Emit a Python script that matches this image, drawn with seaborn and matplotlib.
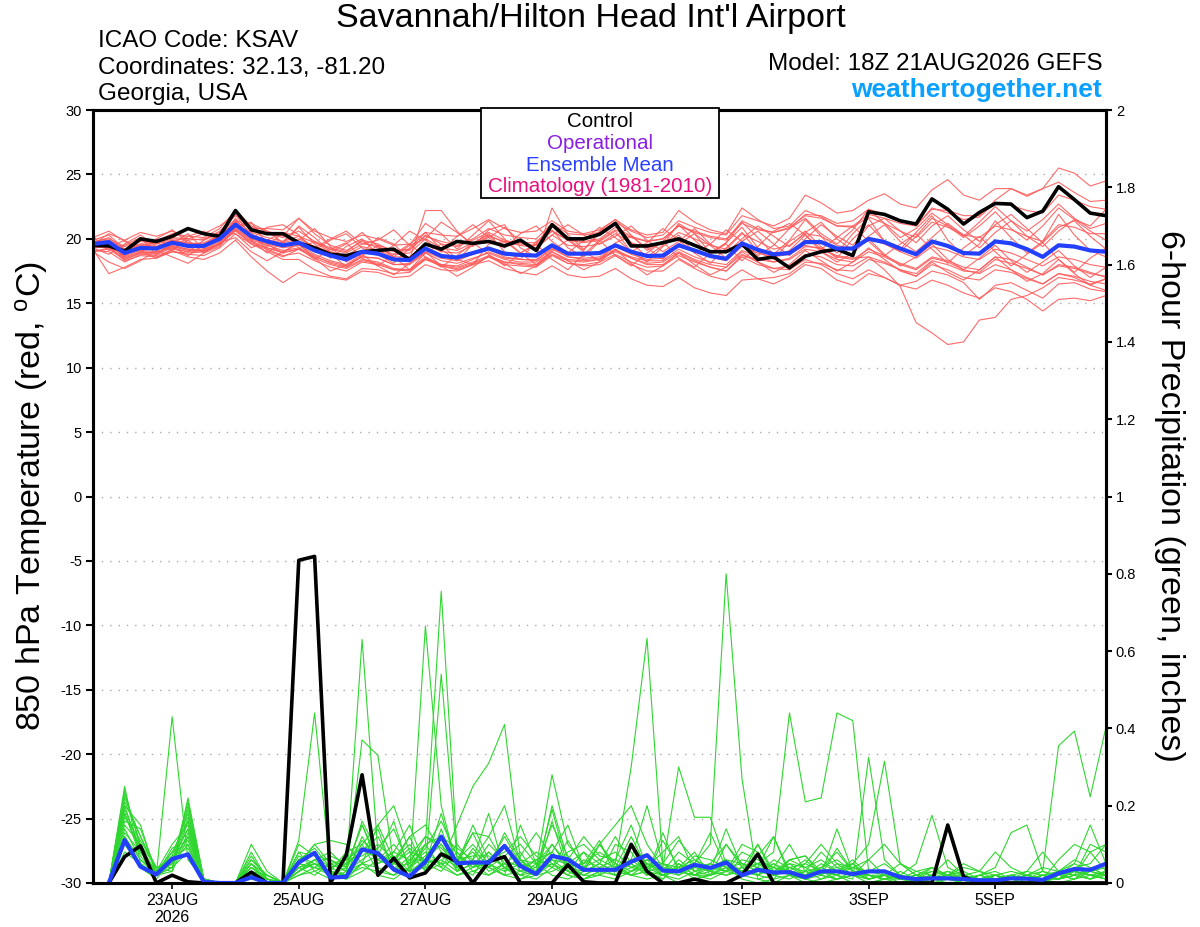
"""
GEFS meteogram: 850 hPa temperature spaghetti + 6-hour precipitation, KSAV.
"""
import matplotlib
matplotlib.use("Agg")
import matplotlib.pyplot as plt
from matplotlib.patches import Rectangle
import pandas as pd
import seaborn as sns

# ── data ──────────────────────────────────────────────────────────────────
RUN_START = "2026-08-21 18:00"
N_STEPS = 65                      # 6-hourly, 18Z 21AUG .. 18Z 6SEP

tick_dates = ["2026-08-23", "2026-08-25", "2026-08-27", "2026-08-29",
              "2026-09-01", "2026-09-03", "2026-09-05"]
tick_labels = ["23AUG\n2026", "25AUG", "27AUG", "29AUG", "1SEP", "3SEP", "5SEP"]

temp_ticks = [-30, -25, -20, -15, -10, -5, 0, 5, 10, 15, 20, 25, 30]
precip_ticks = [0, 0.2, 0.4, 0.6, 0.8, 1, 1.2, 1.4, 1.6, 1.8, 2]

temp_control = [
    19.5, 19.45, 19.05, 20.0, 19.8, 20.2, 20.8, 20.4, 20.2, 22.2, 20.7, 20.4, 20.4,
    19.7, 19.3, 18.8, 18.7, 19.0, 19.1, 19.2, 18.4, 19.6, 19.2, 19.8, 19.65, 19.8,
    19.45, 19.9, 19.1, 21.1, 20.0, 20.0, 20.35, 21.2, 19.45, 19.45, 19.7, 20.0, 19.5,
    19.0, 19.0, 19.6, 18.4, 18.6, 17.75, 18.65, 19.0, 19.2, 18.7, 22.1, 21.9, 21.4,
    21.15, 23.1, 22.3, 21.15, 22.05, 22.75, 22.7, 21.65, 22.15, 24.05, 23.05, 22.0, 21.8,
]
temp_mean = [
    19.6, 19.75, 18.9, 19.3, 19.25, 19.7, 19.45, 19.45, 20.0, 21.1, 20.2, 19.8, 19.5,
    19.7, 19.1, 18.7, 18.4, 19.0, 18.85, 18.4, 18.35, 19.25, 18.67, 18.55, 18.9, 19.25,
    18.85, 18.75, 18.7, 19.5, 18.85, 18.85, 18.9, 19.5, 19.0, 18.67, 18.7, 19.5, 19.1,
    18.67, 18.45, 19.65, 19.15, 18.8, 18.9, 19.75, 19.75, 19.25, 19.25, 20.0, 19.75, 19.25,
    18.8, 19.8, 19.45, 18.9, 18.85, 19.8, 19.65, 19.2, 18.6, 19.5, 19.4, 19.1, 19.0,
]

t_m01 = [19.9, 20.3, 19.2, 19.8, 19.6, 20.1, 20.0, 19.9, 20.6, 21.8, 20.9, 20.4, 20.1,
         20.6, 19.8, 19.3, 19.0, 19.9, 19.6, 19.0, 19.1, 20.3, 19.6, 19.4, 19.9, 20.5,
         19.9, 19.6, 19.5, 20.6, 19.9, 19.8, 20.0, 20.9, 20.2, 19.8, 20.0, 21.0, 20.5,
         20.1, 19.9, 21.4, 20.8, 20.5, 20.8, 21.9, 21.8, 21.2, 21.4, 22.3, 21.9, 21.4,
         21.0, 22.4, 22.0, 21.5, 21.7, 22.8, 22.6, 22.2, 22.0, 23.4, 23.0, 22.5, 22.3]
t_m02 = [19.3, 19.4, 18.3, 18.7, 18.6, 19.0, 18.8, 18.7, 19.3, 20.4, 19.6, 19.2, 18.7,
         18.9, 18.3, 17.8, 17.5, 18.2, 18.0, 17.6, 17.5, 18.5, 17.9, 17.7, 18.1, 18.6,
         18.0, 17.9, 17.8, 18.7, 18.1, 18.0, 18.2, 18.8, 18.2, 17.8, 17.9, 18.7, 18.2,
         17.8, 17.5, 18.6, 18.0, 17.7, 17.9, 18.8, 18.6, 18.0, 17.9, 18.6, 18.2, 17.6,
         17.1, 18.0, 17.6, 17.0, 16.8, 17.6, 17.4, 16.9, 16.5, 17.3, 17.1, 16.7, 16.5]
t_m03 = [19.8, 20.0, 19.4, 19.9, 19.8, 20.4, 20.2, 20.1, 20.8, 22.2, 21.0, 20.6, 20.2,
         21.6, 20.4, 19.5, 19.1, 19.8, 19.3, 18.8, 18.9, 20.0, 19.3, 19.1, 19.7, 20.3,
         19.7, 19.5, 19.3, 20.3, 19.5, 19.4, 19.6, 20.4, 19.7, 19.3, 19.6, 20.5, 20.0,
         19.5, 19.2, 20.4, 19.8, 19.2, 19.5, 20.4, 20.2, 19.5, 19.2, 20.0, 19.6, 19.0,
         18.5, 19.4, 19.1, 18.6, 18.4, 19.2, 18.9, 18.4, 17.9, 18.6, 18.4, 18.0, 17.8]
t_m04 = [19.2, 17.3, 17.8, 18.4, 18.5, 19.0, 18.9, 19.0, 19.5, 20.7, 19.8, 19.3, 18.9,
         19.2, 18.6, 18.2, 17.9, 18.6, 18.5, 18.0, 18.1, 19.0, 18.5, 18.3, 18.8, 19.2,
         18.6, 18.4, 18.3, 19.2, 18.6, 18.5, 18.6, 19.4, 18.8, 18.4, 18.5, 19.5, 19.0,
         18.6, 18.3, 19.4, 18.9, 18.6, 18.8, 19.5, 19.2, 18.7, 18.5, 18.6, 17.6, 16.3,
         13.5, 12.7, 11.8, 12.0, 13.7, 13.9, 15.3, 15.6, 16.2, 17.0, 16.8, 16.5, 16.9]
t_m05 = [19.7, 20.1, 19.1, 19.5, 19.4, 19.9, 19.6, 19.7, 20.3, 21.4, 20.5, 20.1, 19.8,
         20.2, 19.7, 19.2, 18.9, 19.6, 19.5, 19.1, 19.2, 20.2, 19.8, 19.5, 20.0, 20.8,
         20.3, 20.1, 20.0, 21.2, 20.4, 20.3, 20.5, 21.3, 20.6, 20.1, 20.3, 21.4, 20.9,
         20.5, 20.3, 21.8, 21.4, 21.0, 21.6, 23.4, 22.8, 22.0, 22.2, 23.0, 23.5, 22.7,
         22.4, 23.8, 24.6, 23.4, 23.0, 23.9, 23.9, 23.3, 23.9, 25.5, 25.1, 24.1, 24.5]
t_m06 = [19.3, 18.8, 19.6, 20.3, 19.4, 19.1, 20.2, 20.6, 19.8, 21.0, 21.3, 19.6, 18.9,
         19.9, 20.8, 19.4, 18.2, 18.9, 20.1, 19.6, 18.4, 22.2, 22.2, 20.6, 19.4, 20.7,
         21.1, 19.3, 18.6, 22.4, 20.3, 19.2, 20.4, 21.3, 19.7, 18.6, 19.5, 21.2, 20.4,
         18.9, 19.7, 21.3, 20.1, 18.8, 19.9, 21.5, 20.2, 18.9, 20.4, 21.6, 19.8, 19.2,
         20.5, 21.8, 19.9, 18.7, 19.6, 21.4, 20.1, 18.9, 19.8, 21.9, 20.3, 19.1, 18.6]
t_m07 = [19.4, 19.6, 18.6, 19.0, 18.9, 19.4, 19.2, 19.1, 19.7, 20.8, 19.9, 19.5, 19.1,
         19.3, 18.7, 18.1, 17.8, 18.4, 18.2, 17.7, 17.6, 18.4, 17.9, 17.6, 18.0, 18.3,
         17.7, 17.4, 17.2, 17.9, 17.2, 17.0, 17.1, 17.7, 16.9, 16.4, 16.3, 17.0, 16.2,
         15.8, 15.6, 16.8, 16.9, 17.0, 17.3, 18.2, 18.1, 17.6, 17.5, 18.4, 18.1, 17.6,
         17.3, 18.3, 18.0, 17.5, 17.4, 18.4, 18.1, 17.7, 17.2, 18.0, 17.8, 17.4, 17.0]
t_m08 = [20.1, 20.6, 19.8, 19.2, 20.0, 20.7, 19.7, 19.3, 20.0, 21.4, 20.0, 20.9, 21.1,
         20.3, 19.1, 19.9, 20.4, 19.3, 18.7, 19.5, 20.6, 19.9, 19.0, 20.2, 21.1, 20.1,
         19.3, 20.4, 21.0, 19.8, 18.9, 19.9, 20.9, 20.1, 19.0, 19.7, 20.8, 19.9, 18.9,
         19.6, 20.7, 19.8, 18.7, 19.5, 20.8, 21.6, 20.4, 19.6, 20.7, 22.3, 21.2, 20.1,
         20.8, 22.0, 21.1, 20.2, 21.3, 22.5, 21.4, 20.6, 21.5, 22.7, 21.6, 20.8, 21.2]
t_m09 = [19.1, 19.0, 18.2, 18.8, 18.7, 19.1, 18.6, 18.4, 18.9, 19.9, 18.6, 17.5, 16.6,
         17.4, 17.2, 17.0, 16.8, 17.5, 17.4, 17.0, 17.1, 18.0, 17.6, 17.5, 18.0, 18.6,
         18.2, 18.1, 18.0, 18.8, 18.3, 18.2, 18.4, 19.1, 18.6, 18.3, 18.3, 19.2, 18.6,
         18.2, 18.0, 19.1, 18.6, 18.2, 18.4, 19.2, 19.0, 18.4, 18.2, 19.0, 18.6, 18.0,
         17.6, 18.5, 18.2, 17.6, 17.3, 18.0, 17.6, 17.0, 16.5, 17.3, 17.0, 16.4, 16.0]
t_m10 = [19.6, 19.8, 19.0, 19.6, 19.6, 20.0, 19.9, 20.0, 20.5, 21.5, 20.8, 20.8, 20.7,
         21.6, 20.6, 20.1, 19.8, 20.3, 20.0, 19.5, 19.6, 20.5, 20.3, 20.2, 20.8, 21.5,
         20.8, 20.5, 20.6, 21.4, 20.6, 20.4, 20.7, 21.5, 20.7, 20.3, 20.5, 22.2, 21.3,
         20.7, 20.4, 22.4, 21.5, 20.8, 21.0, 22.2, 21.7, 21.0, 20.9, 21.7, 21.2, 20.6,
         20.1, 21.3, 20.9, 20.3, 20.1, 21.0, 20.7, 20.2, 19.8, 21.1, 20.9, 20.4, 20.4]
t_m11 = [19.3, 19.5, 18.7, 19.1, 19.0, 19.5, 19.2, 19.2, 19.8, 20.8, 20.0, 19.6, 19.3,
         19.5, 18.8, 18.3, 18.0, 18.6, 18.5, 18.0, 18.0, 18.9, 18.3, 18.1, 18.5, 18.9,
         18.4, 18.2, 18.2, 19.0, 18.4, 18.3, 18.4, 19.0, 18.5, 18.1, 18.2, 19.0, 18.4,
         18.0, 17.8, 18.8, 18.2, 17.7, 17.6, 18.4, 18.0, 17.3, 16.9, 17.6, 17.0, 16.4,
         16.1, 16.8, 16.4, 15.8, 15.4, 16.2, 15.9, 15.3, 14.4, 15.3, 15.4, 15.2, 15.6]
t_m12 = [19.4, 19.9, 18.4, 18.9, 20.0, 19.4, 18.7, 19.5, 20.3, 20.4, 19.3, 19.9, 20.5,
         19.3, 18.4, 19.2, 19.7, 18.5, 17.9, 18.8, 19.6, 18.6, 17.8, 18.7, 19.7, 18.8,
         17.9, 18.9, 19.6, 18.4, 17.6, 18.8, 19.9, 18.7, 17.9, 18.9, 19.8, 18.5, 17.8,
         18.9, 19.6, 18.3, 19.4, 20.6, 21.2, 20.3, 19.2, 20.1, 21.0, 19.8, 18.7, 19.6,
         20.4, 19.2, 18.1, 19.3, 20.2, 19.0, 17.9, 18.8, 19.7, 18.4, 17.4, 18.5, 19.3]
t_m13 = [20.2, 19.1, 19.5, 20.1, 18.8, 19.6, 20.4, 19.2, 19.6, 21.6, 19.9, 18.9, 19.8,
         20.9, 19.6, 18.5, 19.4, 20.0, 18.8, 18.1, 19.3, 20.5, 19.2, 18.3, 19.6, 20.4,
         19.0, 18.4, 19.8, 20.7, 19.3, 18.6, 19.8, 20.6, 19.0, 18.2, 19.4, 20.3, 18.9,
         18.1, 19.3, 20.5, 19.0, 18.4, 19.8, 20.6, 19.4, 18.5, 20.0, 21.1, 19.8, 19.0,
         20.2, 21.6, 21.0, 20.1, 21.0, 22.1, 20.8, 19.9, 21.0, 22.4, 21.5, 21.0, 22.3]
t_m14 = [19.0, 19.2, 18.4, 18.9, 18.8, 19.3, 19.0, 19.0, 19.6, 20.7, 19.6, 19.0, 18.4,
         18.4, 17.6, 17.1, 16.9, 17.7, 17.6, 17.3, 17.4, 18.4, 18.0, 17.9, 18.4, 19.0,
         18.5, 18.4, 18.4, 19.3, 18.6, 18.4, 18.5, 19.2, 18.5, 18.0, 18.0, 18.9, 18.3,
         17.8, 17.5, 18.7, 18.4, 18.2, 18.5, 19.4, 19.3, 18.6, 18.4, 19.2, 18.7, 18.1,
         17.7, 18.6, 18.3, 17.8, 17.6, 18.6, 18.4, 17.8, 17.2, 17.9, 17.7, 17.3, 17.1]
t_m15 = [19.0, 19.3, 19.9, 19.0, 18.5, 19.2, 19.9, 18.9, 19.4, 20.9, 21.2, 20.6, 19.7,
         21.0, 20.1, 19.0, 19.6, 20.5, 19.4, 18.6, 19.5, 21.2, 20.4, 19.2, 20.3, 21.4,
         20.0, 18.9, 19.6, 21.2, 20.0, 19.1, 20.6, 21.5, 20.3, 19.1, 19.8, 21.1, 19.9,
         18.8, 19.7, 20.9, 19.3, 18.6, 19.1, 20.3, 19.0, 18.2, 18.9, 20.0, 18.8, 17.9,
         18.6, 19.6, 18.4, 17.6, 18.5, 19.5, 18.3, 17.4, 18.2, 19.1, 17.9, 17.0, 17.8]
t_m16 = [19.7, 19.9, 19.2, 19.6, 19.4, 19.9, 19.7, 19.6, 20.2, 21.3, 20.3, 19.9, 19.7,
         20.0, 19.4, 19.0, 18.7, 19.4, 19.1, 18.6, 18.6, 19.6, 19.0, 18.9, 19.5, 20.2,
         19.8, 19.7, 19.7, 20.6, 19.9, 19.7, 19.9, 20.7, 20.1, 19.8, 20.0, 21.0, 20.6,
         20.2, 20.0, 21.2, 20.7, 20.5, 20.9, 21.8, 21.6, 21.0, 21.0, 21.9, 21.6, 21.2,
         21.0, 22.3, 22.2, 21.8, 21.8, 23.0, 23.9, 23.4, 23.9, 24.4, 23.6, 22.9, 23.0]
t_m17 = [19.4, 19.3, 18.5, 19.0, 18.9, 19.4, 19.1, 19.1, 19.6, 20.6, 19.7, 19.3, 19.0,
         19.2, 18.5, 18.0, 17.7, 18.3, 18.1, 17.6, 17.6, 18.6, 18.0, 17.8, 18.2, 18.7,
         18.2, 18.0, 17.9, 18.8, 18.1, 17.9, 18.0, 18.7, 18.0, 17.5, 17.5, 18.4, 17.7,
         17.1, 16.8, 17.6, 16.9, 16.5, 17.1, 18.0, 17.7, 16.8, 16.4, 17.3, 17.0, 16.4,
         16.7, 17.5, 17.2, 16.6, 15.3, 16.4, 16.6, 16.0, 15.4, 16.5, 16.6, 16.1, 15.9]
t_m18 = [19.6, 20.4, 19.9, 20.5, 20.2, 20.6, 20.0, 20.4, 21.0, 21.9, 20.2, 19.4, 20.5,
         20.2, 19.3, 20.0, 20.6, 19.6, 19.9, 20.7, 19.5, 20.0, 21.3, 20.5, 19.6, 20.1,
         20.9, 19.8, 19.3, 20.3, 21.1, 20.3, 19.6, 20.2, 21.0, 19.9, 19.0, 19.8, 20.8,
         19.6, 18.9, 20.0, 21.0, 20.2, 19.4, 20.5, 21.3, 20.0, 19.1, 20.2, 21.1, 19.8,
         19.0, 20.1, 21.2, 20.3, 19.3, 20.5, 21.4, 20.2, 19.4, 20.6, 21.5, 20.6, 19.9]
t_m19 = [19.0, 18.2, 17.7, 18.3, 19.1, 18.6, 18.1, 18.9, 19.7, 20.1, 19.0, 18.3, 19.0,
         19.6, 18.5, 17.5, 18.0, 18.8, 17.9, 17.2, 18.1, 19.0, 17.9, 17.1, 17.8, 18.7,
         18.1, 17.3, 17.9, 19.0, 18.3, 17.6, 18.2, 19.2, 18.1, 17.2, 17.9, 18.9, 18.0,
         17.2, 17.8, 19.0, 18.2, 17.4, 18.0, 19.1, 18.3, 17.5, 18.2, 19.3, 18.4, 17.5,
         17.1, 18.2, 17.4, 16.8, 17.6, 18.6, 17.6, 16.7, 17.3, 18.4, 17.3, 16.4, 16.9]
t_m20 = [19.8, 19.5, 18.6, 19.9, 19.7, 19.2, 19.0, 19.9, 20.4, 21.0, 20.5, 19.1, 18.6,
         19.2, 19.8, 18.9, 17.8, 18.7, 19.5, 18.6, 17.6, 18.9, 19.6, 18.4, 18.0, 19.6,
         19.8, 18.9, 18.0, 19.1, 19.9, 19.0, 18.3, 19.7, 20.2, 19.3, 18.4, 19.6, 20.4,
         19.5, 18.5, 19.8, 20.6, 19.6, 18.7, 20.0, 21.1, 20.2, 19.5, 21.0, 21.6, 20.6,
         19.7, 21.0, 21.8, 20.7, 19.8, 21.1, 21.9, 20.8, 19.7, 20.9, 21.4, 20.2, 19.2]

temp_members = [t_m01, t_m02, t_m03, t_m04, t_m05, t_m06, t_m07, t_m08, t_m09, t_m10,
                t_m11, t_m12, t_m13, t_m14, t_m15, t_m16, t_m17, t_m18, t_m19, t_m20]

# precipitation: 64 six-hour totals, 00Z 22AUG .. 18Z 6SEP
precip_control = [
    0, 0.068, 0.096, 0, 0.02, 0.003, 0, 0, 0, 0.028, 0, 0, 0.835, 0.845, 0, 0.072,
    0.28, 0.02, 0.064, 0.013, 0.026, 0.075, 0.055, 0, 0.055, 0.068, 0, 0, 0, 0.047, 0.003, 0,
    0, 0.1, 0.03, 0, 0, 0.01, 0, 0, 0.02, 0.075, 0, 0, 0, 0, 0, 0,
    0, 0, 0, 0, 0, 0.15, 0.016, 0, 0, 0, 0, 0, 0, 0, 0, 0,
]
precip_mean = [
    0, 0.111, 0.042, 0.022, 0.062, 0.074, 0.003, 0, 0, 0.015, 0, 0, 0.053, 0.078, 0.014, 0.016,
    0.087, 0.077, 0.035, 0.017, 0.055, 0.12, 0.051, 0.053, 0.053, 0.096, 0.044, 0.023, 0.07, 0.061, 0.034, 0.034,
    0.034, 0.055, 0.072, 0.032, 0.03, 0.047, 0.039, 0.053, 0.02, 0.034, 0.027, 0.028, 0.015, 0.03, 0.03, 0.023,
    0.03, 0.03, 0.015, 0.01, 0.012, 0.012, 0.01, 0.007, 0.007, 0.012, 0.011, 0.008, 0.025, 0.036, 0.034, 0.05,
]

p_m01 = [0, 0.25, 0.05, 0.02, 0.43, 0.06, 0.01, 0, 0, 0.02, 0, 0, 0.03, 0.06, 0.02, 0.01,
         0.05, 0.02, 0.01, 0.04, 0.1, 0.755, 0.08, 0.03, 0.05, 0.02, 0.01, 0.02, 0.06, 0.03, 0.01, 0.02,
         0.01, 0.03, 0.05, 0.02, 0, 0.01, 0.02, 0.04, 0.01, 0, 0.01, 0.02, 0, 0.01, 0.02, 0,
         0, 0.01, 0.02, 0, 0.01, 0, 0, 0.01, 0, 0.02, 0.01, 0, 0.02, 0.03, 0.01, 0.02]
p_m02 = [0, 0.22, 0.12, 0.03, 0.05, 0.2, 0.01, 0, 0, 0.05, 0.01, 0, 0.08, 0.03, 0.05, 0.03,
         0.63, 0.08, 0.03, 0.02, 0.665, 0.2, 0.04, 0.02, 0.08, 0.04, 0.02, 0.01, 0.04, 0.02, 0.01, 0.03,
         0.05, 0.02, 0.01, 0.02, 0.04, 0.01, 0.02, 0.05, 0.02, 0.01, 0, 0.02, 0.01, 0, 0.01, 0.02,
         0, 0.01, 0, 0, 0.02, 0.01, 0, 0, 0.01, 0, 0.02, 0.01, 0, 0.01, 0.03, 0.02]
p_m03 = [0, 0.18, 0.08, 0.03, 0.1, 0.15, 0.01, 0, 0, 0.1, 0.03, 0, 0.11, 0.44, 0.03, 0.02,
         0.37, 0.33, 0.05, 0.03, 0.04, 0.54, 0.06, 0.13, 0.04, 0.02, 0.15, 0.05, 0.02, 0.01, 0.03, 0.1,
         0.04, 0.02, 0.03, 0.01, 0.05, 0.02, 0.01, 0.03, 0.1, 0.08, 0.02, 0.01, 0.03, 0.02, 0.01, 0.03,
         0.01, 0.02, 0, 0.01, 0.04, 0.02, 0, 0.01, 0, 0.01, 0.02, 0.03, 0.01, 0.02, 0.08, 0.03]
p_m04 = [0, 0.2, 0.15, 0.02, 0.07, 0.18, 0.01, 0, 0, 0.03, 0, 0, 0.05, 0.1, 0.11, 0.1,
         0.05, 0.15, 0.2, 0.08, 0.03, 0.05, 0.15, 0.25, 0.31, 0.41, 0.06, 0.02, 0.05, 0.03, 0.02, 0.04,
         0.02, 0.05, 0.02, 0.13, 0.03, 0.02, 0.02, 0.1, 0.04, 0.02, 0.01, 0.06, 0.07, 0.02, 0.01, 0.02,
         0.06, 0.02, 0.01, 0.02, 0.04, 0.01, 0.02, 0, 0.01, 0.02, 0, 0.01, 0.02, 0.03, 0.02, 0.01]
p_m05 = [0, 0.15, 0.1, 0.04, 0.06, 0.12, 0.01, 0, 0, 0.06, 0.02, 0, 0.03, 0.05, 0.04, 0.02,
         0.12, 0.05, 0.08, 0.15, 0.04, 0.06, 0.03, 0.05, 0.02, 0.04, 0.01, 0.03, 0.05, 0.02, 0.01, 0.03,
         0.02, 0.04, 0.03, 0.01, 0.05, 0.02, 0.03, 0.02, 0.04, 0.05, 0.08, 0.44, 0.21, 0.22, 0.44, 0.42,
         0.03, 0.05, 0.02, 0.01, 0.03, 0.02, 0.01, 0.02, 0.04, 0.13, 0.15, 0.03, 0.355, 0.393, 0.223, 0.404]
p_m06 = [0, 0.12, 0.06, 0.02, 0.08, 0.16, 0.01, 0, 0, 0.04, 0.01, 0, 0.06, 0.08, 0.02, 0.05,
         0.08, 0.12, 0.04, 0.05, 0.08, 0.05, 0.02, 0.04, 0.06, 0.1, 0.03, 0.02, 0.2, 0.06, 0.03, 0.05,
         0.03, 0.1, 0.05, 0.03, 0.08, 0.05, 0.1, 0.8, 0.27, 0.01, 0.02, 0.06, 0.07, 0.03, 0.02, 0.04,
         0.06, 0.1, 0.05, 0.03, 0.04, 0.02, 0.03, 0.01, 0.02, 0.03, 0.02, 0.01, 0.06, 0.1, 0.08, 0.1]
p_m07 = [0, 0.1, 0.04, 0.03, 0.05, 0.1, 0, 0, 0, 0.02, 0, 0, 0.04, 0.06, 0.08, 0.04,
         0.15, 0.06, 0.1, 0.05, 0.12, 0.1, 0.05, 0.13, 0.12, 0.05, 0.03, 0.04, 0.28, 0.1, 0.05, 0.08,
         0.05, 0.3, 0.633, 0.05, 0.03, 0.02, 0.05, 0.03, 0.04, 0.1, 0.02, 0.03, 0.01, 0.02, 0.14, 0.03,
         0.02, 0.01, 0.02, 0.05, 0.175, 0.04, 0.02, 0.01, 0.02, 0.01, 0.02, 0.04, 0.03, 0.05, 0.15, 0.05]
p_m08 = [0, 0.08, 0.05, 0.02, 0.04, 0.08, 0.01, 0, 0, 0.03, 0, 0, 0.02, 0.04, 0.03, 0.02,
         0.04, 0.03, 0.05, 0.08, 0.06, 0.04, 0.1, 0.05, 0.04, 0.07, 0.1, 0.05, 0.08, 0.15, 0.04, 0.1,
         0.15, 0.2, 0.1, 0.04, 0.3, 0.17, 0.17, 0.05, 0.03, 0.02, 0.05, 0.03, 0.02, 0.04, 0.02, 0.01,
         0.325, 0.06, 0.02, 0.01, 0.02, 0.03, 0.01, 0, 0.02, 0.01, 0, 0.02, 0.01, 0.03, 0.02, 0.01]
p_m09 = [0, 0.2, 0.08, 0.03, 0.05, 0.17, 0.01, 0, 0, 0.08, 0.01, 0, 0.1, 0.07, 0.06, 0.04,
         0.1, 0.15, 0.06, 0.1, 0.05, 0.18, 0.04, 0.06, 0.12, 0.2, 0.05, 0.02, 0.16, 0.03, 0.08, 0.05,
         0.03, 0.06, 0.2, 0.05, 0.02, 0.04, 0.03, 0.05, 0.02, 0.1, 0.03, 0.05, 0.02, 0.04, 0.06, 0.03,
         0.02, 0.02, 0.01, 0.03, 0.02, 0.06, 0.02, 0.03, 0.08, 0.04, 0.02, 0.01, 0.02, 0.04, 0.05, 0.1]
p_m10 = [0, 0.23, 0.1, 0.02, 0.03, 0.22, 0.01, 0, 0, 0.02, 0, 0, 0.02, 0.03, 0.01, 0.03,
         0.05, 0.04, 0.02, 0.06, 0.1, 0.04, 0.02, 0.03, 0.02, 0.05, 0.02, 0.03, 0.1, 0.04, 0.02, 0.02,
         0.04, 0.02, 0.03, 0.02, 0.01, 0.03, 0.02, 0.04, 0.02, 0.03, 0.05, 0.02, 0.01, 0.03, 0.01, 0.02,
         0.01, 0.02, 0.05, 0.02, 0.01, 0.02, 0.05, 0.03, 0.02, 0.01, 0.03, 0.08, 0.03, 0.06, 0.04, 0.02]
p_m11 = [0, 0.16, 0.14, 0.03, 0.08, 0.1, 0.01, 0, 0, 0.05, 0.02, 0, 0.05, 0.1, 0.05, 0.06,
         0.07, 0.1, 0.06, 0.12, 0.15, 0.08, 0.06, 0.1, 0.05, 0.03, 0.05, 0.08, 0.05, 0.02, 0.06, 0.04,
         0.06, 0.15, 0.04, 0.08, 0.12, 0.03, 0.05, 0.1, 0.05, 0.04, 0.12, 0.02, 0.05, 0.1, 0.05, 0.04,
         0.03, 0.02, 0.01, 0.02, 0.01, 0.03, 0.02, 0.01, 0.02, 0.01, 0.01, 0.02, 0.01, 0.03, 0.02, 0.02]
p_m12 = [0, 0.12, 0.04, 0.01, 0.06, 0.14, 0, 0, 0, 0.01, 0, 0, 0.03, 0.05, 0.02, 0.01,
         0.03, 0.06, 0.04, 0.03, 0.05, 0.03, 0.08, 0.04, 0.1, 0.06, 0.04, 0.06, 0.04, 0.08, 0.1, 0.06,
         0.08, 0.04, 0.06, 0.05, 0.04, 0.06, 0.04, 0.06, 0.05, 0.03, 0.02, 0.04, 0.03, 0.08, 0.04, 0.02,
         0.02, 0.01, 0.02, 0.01, 0.02, 0.01, 0, 0.02, 0.01, 0.01, 0.02, 0.01, 0.02, 0.05, 0.03, 0.04]
p_m13 = [0, 0.18, 0.07, 0.02, 0.04, 0.13, 0.01, 0, 0, 0.04, 0.01, 0, 0.07, 0.05, 0.03, 0.08,
         0.1, 0.03, 0.02, 0.04, 0.07, 0.12, 0.05, 0.08, 0.03, 0.05, 0.08, 0.02, 0.03, 0.05, 0.08, 0.02,
         0.1, 0.08, 0.02, 0.03, 0.04, 0.08, 0.02, 0.03, 0.06, 0.05, 0.04, 0.02, 0.03, 0.01, 0.03, 0.05,
         0.01, 0.02, 0.01, 0, 0.02, 0.01, 0.01, 0, 0.01, 0.02, 0.01, 0, 0.02, 0.01, 0.02, 0.03]
p_m14 = [0, 0.1, 0.05, 0.02, 0.09, 0.11, 0.01, 0, 0, 0.02, 0.01, 0, 0.04, 0.02, 0.05, 0.03,
         0.16, 0.08, 0.05, 0.12, 0.03, 0.14, 0.03, 0.09, 0.04, 0.13, 0.06, 0.03, 0.19, 0.04, 0.05, 0.11,
         0.02, 0.03, 0.04, 0.02, 0.06, 0.03, 0.04, 0.03, 0.08, 0.06, 0.04, 0.03, 0.02, 0.05, 0.03, 0.06,
         0.02, 0.01, 0.02, 0.01, 0.01, 0.02, 0.01, 0.01, 0.02, 0.01, 0.02, 0.01, 0.01, 0.02, 0.01, 0.03]
p_m15 = [0, 0.24, 0.09, 0.02, 0.05, 0.19, 0.01, 0, 0, 0.07, 0.01, 0, 0.05, 0.04, 0.02, 0.04,
         0.15, 0.05, 0.07, 0.03, 0.06, 0.1, 0.03, 0.05, 0.08, 0.04, 0.02, 0.05, 0.1, 0.05, 0.02, 0.04,
         0.03, 0.02, 0.05, 0.03, 0.02, 0.05, 0.03, 0.02, 0.03, 0.02, 0.06, 0.04, 0.02, 0.03, 0.02, 0.05,
         0.1, 0.315, 0.05, 0.02, 0.03, 0.02, 0.04, 0.03, 0.01, 0.02, 0.03, 0.02, 0.03, 0.02, 0.1, 0.08]
p_m16 = [0, 0.14, 0.06, 0.03, 0.07, 0.09, 0.01, 0, 0, 0.03, 0.02, 0, 0.06, 0.09, 0.04, 0.05,
         0.08, 0.14, 0.03, 0.07, 0.12, 0.09, 0.05, 0.15, 0.06, 0.08, 0.12, 0.07, 0.04, 0.11, 0.04, 0.06,
         0.04, 0.06, 0.03, 0.04, 0.03, 0.02, 0.04, 0.06, 0.03, 0.05, 0.02, 0.05, 0.04, 0.06, 0.03, 0.04,
         0.02, 0.01, 0.01, 0.02, 0.01, 0.02, 0.01, 0.02, 0.03, 0.01, 0.01, 0.02, 0.01, 0.02, 0.03, 0.02]
p_m17 = [0, 0.21, 0.12, 0.04, 0.04, 0.16, 0.01, 0, 0, 0.05, 0, 0, 0.04, 0.05, 0.03, 0.02,
         0.05, 0.07, 0.05, 0.09, 0.05, 0.07, 0.04, 0.06, 0.04, 0.02, 0.03, 0.06, 0.08, 0.04, 0.03, 0.05,
         0.12, 0.05, 0.02, 0.11, 0.04, 0.05, 0.13, 0.04, 0.03, 0.07, 0.12, 0.03, 0.06, 0.02, 0.09, 0.03,
         0.02, 0.01, 0.03, 0.01, 0.01, 0.02, 0.01, 0.01, 0.02, 0.01, 0.01, 0.03, 0.02, 0.01, 0.04, 0.02]
p_m18 = [0, 0.13, 0.08, 0.02, 0.06, 0.14, 0.01, 0, 0, 0.04, 0.01, 0, 0.03, 0.06, 0.06, 0.03,
         0.06, 0.09, 0.14, 0.04, 0.09, 0.16, 0.07, 0.04, 0.05, 0.12, 0.05, 0.04, 0.15, 0.07, 0.03, 0.1,
         0.05, 0.03, 0.06, 0.02, 0.03, 0.04, 0.05, 0.03, 0.02, 0.04, 0.03, 0.06, 0.04, 0.02, 0.05, 0.02,
         0.01, 0.02, 0.01, 0.02, 0, 0.01, 0.01, 0, 0.01, 0.02, 0.01, 0.01, 0.03, 0.02, 0.01, 0.03]
p_m19 = [0, 0.17, 0.11, 0.04, 0.03, 0.12, 0.01, 0, 0, 0.06, 0.02, 0, 0.08, 0.07, 0.04, 0.06,
         0.09, 0.06, 0.08, 0.06, 0.06, 0.05, 0.06, 0.07, 0.07, 0.04, 0.06, 0.05, 0.06, 0.05, 0.04, 0.03,
         0.04, 0.12, 0.04, 0.05, 0.11, 0.06, 0.03, 0.14, 0.04, 0.02, 0.04, 0.1, 0.03, 0.04, 0.08, 0.03,
         0.01, 0.02, 0.01, 0.01, 0.02, 0.01, 0.01, 0.02, 0.01, 0.01, 0.02, 0.01, 0.01, 0.03, 0.02, 0.01]
p_m20 = [0, 0.19, 0.09, 0.03, 0.05, 0.21, 0.01, 0, 0, 0.03, 0.01, 0, 0.05, 0.04, 0.07, 0.05,
         0.11, 0.07, 0.16, 0.03, 0.1, 0.12, 0.09, 0.06, 0.18, 0.03, 0.07, 0.13, 0.07, 0.06, 0.12, 0.07,
         0.06, 0.04, 0.05, 0.04, 0.03, 0.07, 0.06, 0.04, 0.05, 0.03, 0.02, 0.04, 0.05, 0.03, 0.04, 0.05,
         0.02, 0.01, 0.02, 0.01, 0.01, 0.02, 0.02, 0.01, 0.01, 0.02, 0.01, 0.02, 0.01, 0.04, 0.02, 0.03]

precip_members = [p_m01, p_m02, p_m03, p_m04, p_m05, p_m06, p_m07, p_m08, p_m09, p_m10,
                  p_m11, p_m12, p_m13, p_m14, p_m15, p_m16, p_m17, p_m18, p_m19, p_m20]

# ── styling ───────────────────────────────────────────────────────────────
RED   = "#ff5a5a"
GREEN = "#2fd62f"
BLUE  = "#2340ff"
GRID  = "#a8a8a8"

sns.set_style("white")
plt.rcParams["font.family"] = ["Liberation Sans", "DejaVu Sans"]
plt.rcParams["mathtext.fontset"] = "custom"
plt.rcParams["mathtext.rm"] = "Liberation Sans"
plt.rcParams["mathtext.it"] = "Liberation Sans"
for key in ("text.color", "axes.labelcolor", "xtick.color", "ytick.color"):
    plt.rcParams[key] = "black"


def _long(members, times, col):
    frames = [pd.DataFrame({"time": times, col: vals, "member": k})
              for k, vals in enumerate(members)]
    return pd.concat(frames, ignore_index=True)


def main():
    times = pd.date_range(RUN_START, periods=N_STEPS, freq="6h")
    ptimes = times[1:]

    temp_df = _long(temp_members, times, "temp")
    precip_df = _long(precip_members, ptimes, "precip")

    fig = plt.figure(figsize=(12, 9.27), dpi=100)
    ax = fig.add_axes([0.0775, 0.0475, 0.8442, 0.8338])

    # ── temperature (left axis) ──────────────────────────────────────────
    sns.lineplot(data=temp_df, x="time", y="temp", units="member", estimator=None,
                 color=RED, lw=0.8, alpha=0.9, ax=ax, legend=False)
    sns.lineplot(x=times, y=temp_control, color="black", lw=2.6, ax=ax)
    sns.lineplot(x=times, y=temp_mean, color=BLUE, lw=3.0, ax=ax)

    ax.set_ylim(-30, 30)
    ax.set_xlim(times[0], times[-1])
    ax.set_yticks(temp_ticks)
    ax.set_yticklabels([str(t) for t in temp_ticks])
    ax.set_xticks(pd.to_datetime(tick_dates))
    ax.set_xticklabels(tick_labels)
    ax.set_xlabel("")
    ax.set_ylabel("")
    for y in temp_ticks[1:-1]:
        ax.axhline(y, color=GRID, lw=1.0, ls=(0, (1, 5)), zorder=0)

    # ── precipitation (right axis) ───────────────────────────────────────
    ax2 = ax.twinx()
    sns.lineplot(data=precip_df, x="time", y="precip", units="member", estimator=None,
                 color=GREEN, lw=0.8, ax=ax2, legend=False)
    sns.lineplot(x=ptimes, y=precip_control, color="black", lw=2.6, ax=ax2)
    sns.lineplot(x=ptimes, y=precip_mean, color=BLUE, lw=3.0, ax=ax2)
    ax2.set_ylim(0, 2)
    ax2.set_yticks(precip_ticks)
    ax2.set_yticklabels([f"{v:g}" for v in precip_ticks])
    ax2.set_ylabel("")
    ax2.set_xlim(times[0], times[-1])

    for a in (ax, ax2):
        for sp in a.spines.values():
            sp.set_visible(True)
            sp.set_linewidth(2.2)
            sp.set_color("black")
    ax.tick_params(axis="y", direction="out", length=5, width=1.5, labelsize=10.5,
                   pad=3, left=True)
    ax.tick_params(axis="x", direction="out", length=4, width=1.2, labelsize=11.5,
                   pad=3, bottom=True)
    ax2.tick_params(axis="y", direction="out", length=4, width=1.5, labelsize=10.5,
                    pad=3, right=True)

    # ── legend box ───────────────────────────────────────────────────────
    box = Rectangle((0.383, 0.8865), 0.235, 0.1165, transform=ax2.transAxes,
                    facecolor="white", edgecolor="black", lw=1.3,
                    clip_on=False, zorder=20)
    ax2.add_patch(box)
    legend_items = [("Control", "black"), ("Operational", "#8a1ee0"),
                    ("Ensemble Mean", "#2a40ff"), ("Climatology (1981-2010)", "#e8107e")]
    for k, (txt, col) in enumerate(legend_items):
        ax2.text(0.5005, 0.9848 - k * 0.0281, txt, color=col, fontsize=14.8,
                 ha="center", va="center", transform=ax2.transAxes, zorder=21)

    # ── header text ──────────────────────────────────────────────────────
    fig.text(0.492, 0.980, "Savannah/Hilton Head Int'l Airport", fontsize=24.5,
             ha="center", va="center")
    for k, line in enumerate(["ICAO Code: KSAV", "Coordinates: 32.13, -81.20",
                              "Georgia, USA"]):
        fig.text(0.0817, 0.9555 - k * 0.0285, line, fontsize=17.5,
                 ha="left", va="center")
    fig.text(0.9185, 0.931, "Model: 18Z 21AUG2026 GEFS", fontsize=17.5,
             ha="right", va="center")
    fig.text(0.9185, 0.9025, "weathertogether.net", fontsize=19, weight="bold",
             color="#0aa0ff", ha="right", va="center")

    fig.text(0.026, 0.4645, "850 hPa Temperature (red, $^{o}$C)", fontsize=24.5,
             rotation=90, ha="center", va="center")
    fig.text(0.975, 0.4645, "6-hour Precipitation (green, inches)", fontsize=24.5,
             rotation=270, ha="center", va="center")

    fig.savefig("out.png", dpi=100)
    plt.close(fig)


if __name__ == "__main__":
    main()
